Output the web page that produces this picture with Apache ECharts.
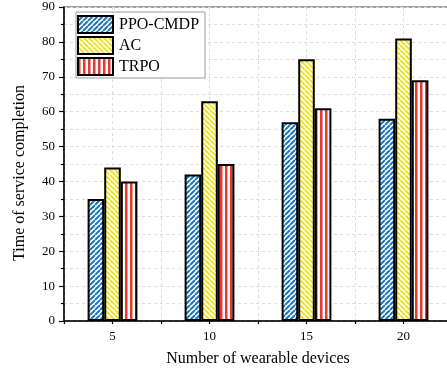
<!DOCTYPE html>
<html>
<head>
<meta charset="utf-8">
<script src="https://cdn.jsdelivr.net/npm/echarts@6/dist/echarts.min.js"></script>
<style>
html, body { margin: 0; padding: 0; background: #fff; overflow: hidden; }
/* 画布比窗口宽一点，右侧被裁掉，和原图一致 */
#chart { width: 470px; height: 373px; }
</style>
</head>
<body>
<div id="chart"></div>
<script>
// 数据
const categories = ['5', '10', '15', '20']
const seriesNames = ['PPO-CMDP', 'AC', 'TRPO']
const ppoCmdp = [35, 42, 57, 58]
const ac = [44, 63, 75, 81]
const trpo = [40, 45, 61, 69]
const yTicks = [0, 10, 20, 30, 40, 50, 60, 70, 80, 90]

const FONT = "'Liberation Serif', 'Times New Roman', serif"

// 斜线 / 竖线 填充
function makePattern(color, dir) {
  const s = 5
  const c = document.createElement('canvas')
  c.width = s
  c.height = s
  const ctx = c.getContext('2d')
  ctx.fillStyle = '#fff'
  ctx.fillRect(0, 0, s, s)
  ctx.strokeStyle = color
  ctx.lineWidth = 2
  ctx.beginPath()
  if (dir === 'v') {
    ctx.fillStyle = color
    ctx.fillRect(0, 0, 2.5, s)
  } else {
    for (let k = -1; k <= 1; k++) {
      if (dir === '/') {
        ctx.moveTo(k * s, s)
        ctx.lineTo(k * s + s, 0)
      } else {
        ctx.moveTo(k * s, 0)
        ctx.lineTo(k * s + s, s)
      }
    }
    ctx.stroke()
  }
  return { image: c, repeat: 'repeat' }
}

const fills = [
  makePattern('#1f78b8', '/'),
  makePattern('#efe226', '\\'),
  makePattern('#e8372c', 'v')
]
const values = [ppoCmdp, ac, trpo]

const chart = echarts.init(document.getElementById('chart'))

const option = {
  animation: false,
  grid: {
    left: 64,
    top: 7,
    width: 388,
    height: 314,
    show: true,
    borderColor: '#444',
    borderWidth: 1
  },
  legend: {
    orient: 'vertical',
    left: 76,
    top: 12,
    padding: [3, 6, 2, 1],
    itemGap: 2,
    itemWidth: 35,
    itemHeight: 17,
    icon: 'rect',
    borderColor: '#999',
    borderWidth: 1,
    backgroundColor: '#fff',
    textStyle: { fontFamily: FONT, fontSize: 16, color: '#000', padding: [0, 0, 0, 1] },
    data: seriesNames
  },
  xAxis: [
    {
      type: 'category',
      data: categories,
      name: 'Number of wearable devices',
      nameLocation: 'middle',
      nameGap: 30,
      nameTextStyle: { fontFamily: FONT, fontSize: 16, color: '#000' },
      axisLine: { lineStyle: { color: '#000', width: 1.5 } },
      axisTick: { alignWithLabel: true, length: 5, lineStyle: { color: '#000', width: 1.2 } },
      axisLabel: { fontFamily: FONT, fontSize: 13, color: '#000', margin: 9 },
      splitLine: { show: false }
    },
    {
      type: 'value',
      min: 2.5,
      max: 22.5,
      interval: 2.5,
      position: 'bottom',
      axisLine: { show: false },
      axisTick: { show: true, length: 3, lineStyle: { color: '#000', width: 1.2 } },
      axisLabel: { show: false },
      splitLine: { show: true, lineStyle: { color: '#ddd', type: [3, 3], width: 1 } }
    }
  ],
  yAxis: {
    type: 'value',
    min: yTicks[0],
    max: yTicks[yTicks.length - 1],
    interval: 10,
    name: 'Time of service completion',
    nameLocation: 'middle',
    nameGap: 36,
    nameTextStyle: { fontFamily: FONT, fontSize: 16, color: '#000', padding: [0, 18, 0, 0] },
    axisLine: { show: true, lineStyle: { color: '#000', width: 1.5 } },
    axisTick: { show: true, length: 5, lineStyle: { color: '#000', width: 1.2 } },
    minorTick: { show: true, splitNumber: 2, length: 3, lineStyle: { color: '#000', width: 1.2 } },
    axisLabel: { fontFamily: FONT, fontSize: 13, color: '#000', margin: 9 },
    splitLine: { show: true, lineStyle: { color: '#ddd', type: [3, 3], width: 1 } },
    minorSplitLine: { show: true, lineStyle: { color: '#ddd', type: [3, 3], width: 1 } }
  },
  series: seriesNames.map((name, i) => ({
    name: name,
    type: 'bar',
    xAxisIndex: 0,
    data: values[i],
    barWidth: 16.6,
    barGap: '0%',
    itemStyle: {
      color: fills[i],
      borderColor: '#000',
      borderWidth: 2
    }
  }))
}

chart.setOption(option)
</script>
</body>
</html>
